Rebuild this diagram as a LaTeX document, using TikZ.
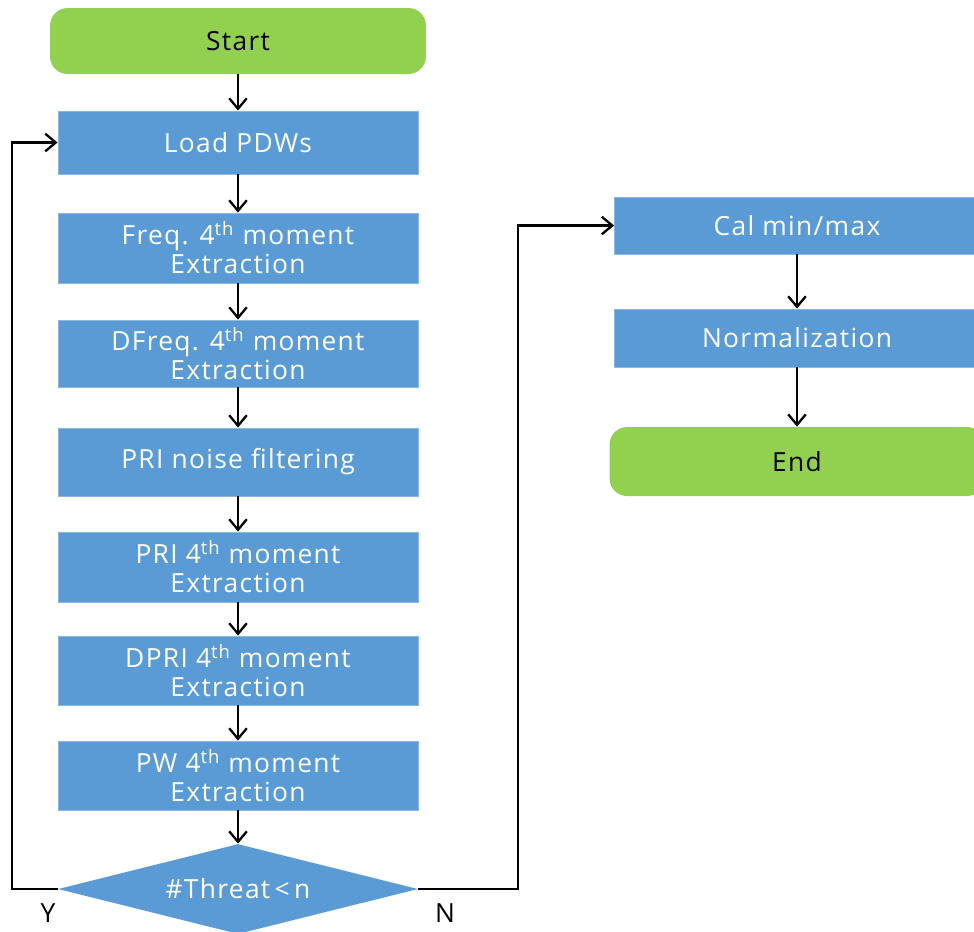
\documentclass[tikz,border=0pt]{standalone}
\usepackage{fontspec}
\setmainfont[LetterSpace=5]{Open Sans}
\usetikzlibrary{shapes.geometric,arrows.meta}
\definecolor{boxblue}{HTML}{5B9BD5}
\definecolor{boxgreen}{HTML}{92D050}
\tikzset{
  procbox/.style={rectangle, fill=boxblue, draw=boxblue!70!white, line width=0.5pt, text=white,
    minimum width=7.2cm, minimum height=1.3cm, align=center, inner sep=0pt,
    font=\fontsize{15}{16.5}\selectfont},
  termbox/.style={rectangle, rounded corners=10pt, fill=boxgreen, text=black,
    minimum height=1.32cm, align=center, inner sep=0pt,
    font=\fontsize{15}{16.5}\selectfont},
  decbox/.style={diamond, fill=boxblue, text=white, aspect=4, inner sep=0pt,
    minimum width=7.2cm, minimum height=1.8cm,
    font=\fontsize{15}{16.5}\selectfont},
  arr/.style={-{Straight Barb[length=6pt,width=10pt,line width=1.3pt]}, line width=1.3pt, black},
  lbl/.style={font=\fontsize{15}{16.5}\selectfont, text=black, inner sep=0pt}
}
\begin{document}
\begin{tikzpicture}[x=0.02cm, y=-0.02cm]
\useasboundingbox (0,0) rectangle (974,931);
\node[termbox, minimum width=7.52cm] (start) at (238,41) {Start};
\node[procbox, minimum height=1.26cm] (load) at (238,142.5) {Load PDWs};
\node[procbox, minimum height=1.4cm] (freq) at (238,248) {Freq. 4\textsuperscript{th} moment\\Extraction};
\node[procbox, minimum height=1.34cm] (dfreq) at (238,353.5) {DFreq. 4\textsuperscript{th} moment\\Extraction};
\node[procbox, minimum height=1.36cm] (prin) at (238,462) {PRI noise filtering};
\node[procbox, minimum height=1.4cm] (pri) at (238,567) {PRI 4\textsuperscript{th} moment\\Extraction};
\node[procbox, minimum height=1.38cm] (dpri) at (238,670.5) {DPRI 4\textsuperscript{th} moment\\Extraction};
\node[procbox, minimum height=1.38cm] (pw) at (238,775.5) {PW 4\textsuperscript{th} moment\\Extraction};
\node[decbox] (dec) at (238,889) {\#Threat\,<\,n};
\node[procbox, minimum width=7.3cm, minimum height=1.14cm] (cal) at (797,225.5) {Cal min/max};
\node[procbox, minimum width=7.3cm, minimum height=1.16cm] (norm) at (797,338) {Normalization};
\node[termbox, minimum width=7.5cm, minimum height=1.38cm] (end) at (797,461.5) {End};
\node[lbl] (ylab) at (48,913) {Y};
\node[lbl] (nlab) at (445,913) {N};
\draw[arr] (start.south) -- (load.north);
\draw[arr] (load.south) -- (freq.north);
\draw[arr] (freq.south) -- (dfreq.north);
\draw[arr] (dfreq.south) -- (prin.north);
\draw[arr] (prin.south) -- (pri.north);
\draw[arr] (pri.south) -- (dpri.north);
\draw[arr] (dpri.south) -- (pw.north);
\draw[arr] (pw.south) -- (dec.north);
\draw[arr] (dec.west) -- ++(-46,0) |- (load.west);
\draw[arr] (dec.east) -- ++(100,0) |- (cal.west);
\draw[arr] (cal.south) -- (norm.north);
\draw[arr] (norm.south) -- (end.north);
\end{tikzpicture}
\end{document}
